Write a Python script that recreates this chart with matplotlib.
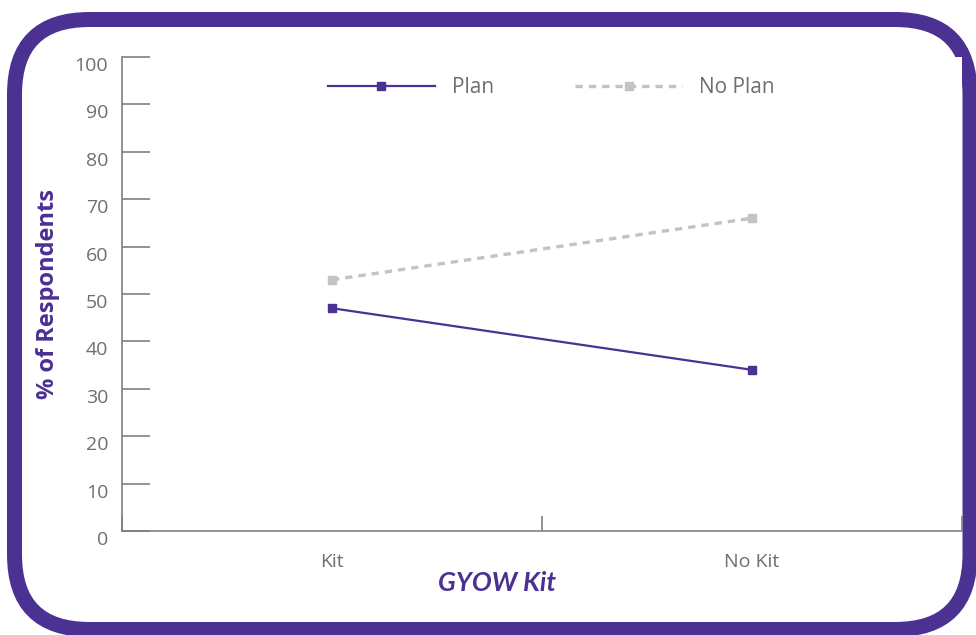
import matplotlib
matplotlib.use("Agg")
import matplotlib.pyplot as plt
import matplotlib.transforms as mtransforms
from matplotlib.patches import FancyBboxPatch

### Data ###
categories = ["Kit", "No Kit"]
plan_values = [47, 34]
no_plan_values = [53, 66]
y_ticks = [0, 10, 20, 30, 40, 50, 60, 70, 80, 90, 100]

PURPLE = "#4a3192"
GREY_TEXT = "#6f6f6f"
GREY_AXIS = "#808080"
GREY_LINE = "#c3c3c3"

plt.rcParams["font.family"] = ["Open Sans", "DejaVu Sans"]

fig = plt.figure(figsize=(9.76, 6.35), dpi=100)
fig.patch.set_facecolor("white")

## Rounded purple frame (inch coords keep the corners round)
frame = FancyBboxPatch((0.145, 0.055), 9.555, 6.10,
	boxstyle="round,pad=0,rounding_size=0.75",
	transform=fig.dpi_scale_trans, facecolor="none",
	edgecolor=PURPLE, linewidth=10.8, zorder=0)
fig.add_artist(frame)

ax = fig.add_axes([0.125, 0.1638, 0.8607, 0.7464])
x = list(range(len(categories)))

ax.plot(x, plan_values, color=PURPLE, linewidth=1.6, marker="s",
	markersize=6, label="Plan", zorder=3)
ax.plot(x, no_plan_values, color=GREY_LINE, linewidth=2.4, marker="s",
	markersize=6, dashes=(2.2, 1.8), label="No Plan", zorder=3)

ax.set_xlim(-0.5, 1.5)
ax.set_ylim(0, 100)

## Spines
for side in ["top", "right"]:
	ax.spines[side].set_visible(False)
for side in ["left", "bottom"]:
	ax.spines[side].set_color(GREY_AXIS)
	ax.spines[side].set_linewidth(1.2)

## Y axis
ax.set_yticks(y_ticks)
ax.tick_params(axis="y", direction="in", length=20, width=1.2, color=GREY_AXIS,
	labelcolor=GREY_TEXT, labelsize=14, pad=10)
offset = mtransforms.ScaledTranslation(0, -0.07, fig.dpi_scale_trans)
for label in ax.get_yticklabels():
	label.set_transform(label.get_transform() + offset)

## X axis: labels at the centres, tick marks at the category edges
ax.set_xticks(x)
ax.set_xticklabels(categories)
ax.set_xticks([-0.5, 0.5, 1.5], minor=True)
ax.tick_params(axis="x", which="major", length=0, labelcolor=GREY_TEXT,
	labelsize=14, pad=16)
ax.tick_params(axis="x", which="minor", direction="in", length=11, width=1.2,
	color=GREY_AXIS)

ax.set_ylabel("% of Respondents", color=PURPLE, fontsize=17, fontweight="bold")
ax.yaxis.set_label_coords(-0.0885, 0.5)
ax.yaxis.label.set_va("center")
ax.set_xlabel("GYOW Kit", color=PURPLE, fontsize=19, fontweight="bold",
	fontstyle="italic", family=["Lato", "DejaVu Sans"])
ax.xaxis.set_label_coords(0.446, -0.11)
ax.xaxis.label.set_va("center")

ax.legend(loc="center", bbox_to_anchor=(0.511, 0.935), ncol=2, frameon=False,
	fontsize=15, handlelength=5.15, handletextpad=0.8, columnspacing=3.9,
	labelcolor=GREY_TEXT)

fig.savefig("out.png", dpi=100, facecolor="white")
